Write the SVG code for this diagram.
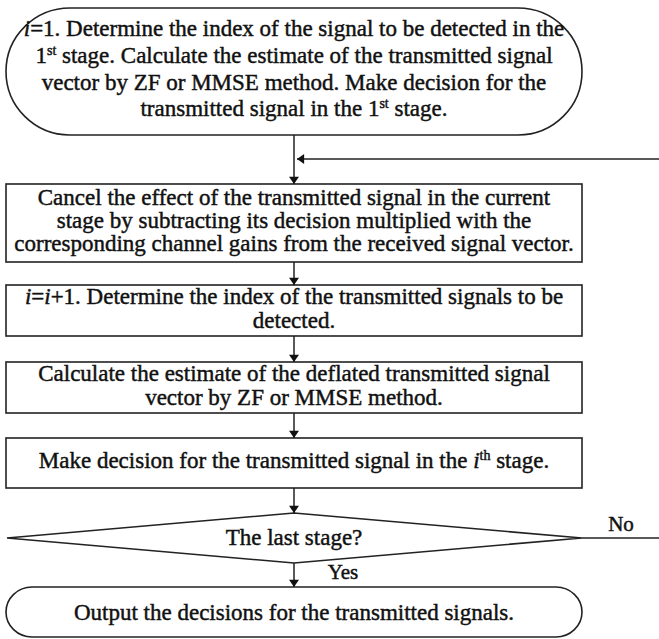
<svg xmlns="http://www.w3.org/2000/svg" width="659" height="639" viewBox="0 0 659 639">
<defs>
<style>
.s{fill:#fff;stroke:#222;stroke-width:1.6}
.t{font-family:"Liberation Serif","Times New Roman",serif;font-size:23px;fill:#111;stroke:#111;stroke-width:0.45;text-anchor:middle}
.l{fill:none;stroke:#222;stroke-width:1.5}
.sup{font-size:14px}
</style>
<marker id="ah" viewBox="0 0 10 14" refX="10" refY="7" markerWidth="14" markerHeight="10" markerUnits="userSpaceOnUse" orient="auto">
<path d="M0,0 L10,7 L0,14 Z" fill="#111"/>
</marker>
</defs>
<rect width="659" height="639" fill="#fff"/>
<g id="start">
<rect class="s" x="6" y="8" width="576" height="127" rx="64" ry="63.5"/>
<text class="t" x="294" y="36"><tspan font-style="italic">i</tspan>=1. Determine the index of the signal to be detected in the</text>
<text class="t" x="294" y="63">1<tspan class="sup" dy="-8">st</tspan><tspan dy="8"> stage. Calculate the estimate of the transmitted signal</tspan></text>
<text class="t" x="294" y="90">vector by ZF or MMSE method. Make decision for the</text>
<text class="t" x="294" y="116">transmitted signal in the 1<tspan class="sup" dy="-8">st</tspan><tspan dy="8"> stage.</tspan></text>
</g>
<g id="cancel">
<rect class="s" x="6" y="184" width="576" height="78"/>
<text class="t" x="294" y="205">Cancel the effect of the transmitted signal in the current</text>
<text class="t" x="294" y="228">stage by subtracting its decision multiplied with the</text>
<text class="t" x="294" y="251">corresponding channel gains from the received signal vector.</text>
</g>
<g id="index">
<rect class="s" x="6" y="285" width="576" height="51"/>
<text class="t" x="294" y="304"><tspan font-style="italic">i</tspan>=<tspan font-style="italic">i</tspan>+1. Determine the index of the transmitted signals to be</text>
<text class="t" x="294" y="328">detected.</text>
</g>
<g id="estimate">
<rect class="s" x="6" y="362" width="576" height="51"/>
<text class="t" x="294" y="381">Calculate the estimate of the deflated transmitted signal</text>
<text class="t" x="294" y="405">vector by ZF or MMSE method.</text>
</g>
<g id="decide">
<rect class="s" x="6" y="438" width="576" height="50"/>
<text class="t" x="294" y="468">Make decision for the transmitted signal in the <tspan font-style="italic">i</tspan><tspan class="sup" dy="-8">th</tspan><tspan dy="8"> stage.</tspan></text>
</g>
<g id="last">
<polygon class="s" points="294,513 582,538 294,563 7,538"/>
<text class="t" x="294" y="545">The last stage?</text>
</g>
<g id="output">
<rect class="s" x="6" y="587" width="576" height="50" rx="26" ry="25"/>
<text class="t" x="294" y="620">Output the decisions for the transmitted signals.</text>
</g>
<g id="connectors">
<line class="l" x1="294" y1="135" x2="294" y2="184" marker-end="url(#ah)"/>
<line class="l" x1="659" y1="159" x2="297" y2="159" marker-end="url(#ah)"/>
<line class="l" x1="294" y1="262" x2="294" y2="285" marker-end="url(#ah)"/>
<line class="l" x1="294" y1="336" x2="294" y2="362" marker-end="url(#ah)"/>
<line class="l" x1="294" y1="413" x2="294" y2="438" marker-end="url(#ah)"/>
<line class="l" x1="294" y1="488" x2="294" y2="513" marker-end="url(#ah)"/>
<line class="l" x1="294" y1="563" x2="294" y2="587" marker-end="url(#ah)"/>
<line class="l" x1="582" y1="538" x2="659" y2="538"/>
<text class="t" x="621" y="531" style="font-size:21px">No</text>
<text class="t" x="343" y="579" style="font-size:21px">Yes</text>
</g>
</svg>
